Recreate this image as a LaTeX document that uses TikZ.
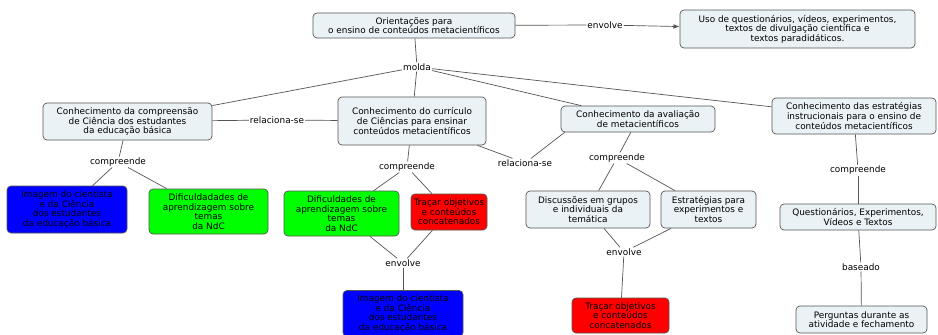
\documentclass[tikz,border=0pt]{standalone}
\usepackage{fontspec}
\setmainfont{DejaVu Sans}
\usetikzlibrary{arrows.meta}
\definecolor{boxfill}{RGB}{234,242,245}
\definecolor{edgegray}{RGB}{85,85,85}

\begin{document}
\begin{tikzpicture}[x=1pt,y=-1pt,>=Latex,
 box/.style={draw=edgegray,fill=boxfill,rounded corners=4pt,align=center,
 font=\fontsize{8.9}{9.6}\selectfont,inner sep=1pt,line width=0.7pt},
 bluebox/.style={box,fill=blue},
 greenbox/.style={box,fill=green},
 redbox/.style={box,fill=red},
 sz/.style 2 args={minimum width=#1pt,minimum height=#2pt},
 lbl/.style={font=\fontsize{8.9}{9.6}\selectfont,inner sep=1pt,fill=white},
 link/.style={draw=edgegray,line width=0.7pt}]
\useasboundingbox[fill=white] (0,0) rectangle (938,335);
% concepts
\node[box,sz={202}{25}] (orient) at (414,25.5) {Orientações para\\o ensino de conteúdos metacientíficos};
\node[box,sz={235}{38}] (uso) at (797.5,29) {Uso de questionários, vídeos, experimentos,\\textos de divulgação científica e\\textos paradidáticos.};
\node[box,sz={169}{37}] (compr) at (127.5,121.5) {Conhecimento da compreensão\\de Ciência dos estudantes\\da educação básica};
\node[box,sz={148}{48}] (curric) at (412,121) {Conhecimento do currículo\\de Ciências para ensinar\\conteúdos metacientíficos};
\node[box,sz={154}{26}] (aval) at (638,119) {Conhecimento da avaliação\\de metacientíficos};
\node[box,sz={164}{36}] (estrat) at (854,116) {Conhecimento das estratégias\\instrucionais para o ensino de\\conteúdos metacientíficos};
\node[bluebox,sz={120}{47}] (imgA) at (67,209.5) {Imagem do cientista\\e da Ciência\\dos estudantes\\da educação básica};
\node[greenbox,sz={119}{45}] (difA) at (208.5,211.5) {Dificuldadades de\\aprendizagem sobre\\temas\\da NdC};
\node[greenbox,sz={115}{45}] (difB) at (341.5,213.5) {Dificuldades de\\aprendizagem sobre\\temas\\da NdC};
\node[redbox,sz={76}{36}] (tracA) at (449,212) {Traçar objetivos\\e conteúdos\\concatenados};
\node[bluebox,sz={120}{46}] (imgB) at (403,313.5) {Imagem do cientista\\e da Ciência\\dos estudantes\\da educação básica};
\node[box,sz={124}{37}] (discus) at (588,209.5) {Discussões em grupos\\e individuais da\\temática};
\node[box,sz={95}{37}] (estexp) at (708.5,209.5) {Estratégias para\\experimentos e\\textos};
\node[redbox,sz={97}{35}] (tracB) at (620.5,315.5) {Traçar objetivos\\e conteúdos\\concatenados};
\node[box,sz={156}{26}] (quest) at (858,217) {Questionários, Experimentos,\\Vídeos e Textos};
\node[box,sz={131}{27}] (pergu) at (861.5,319.5) {Perguntas durante as\\atividade e fechamento};
% linking phrases
\node[lbl] (envA) at (605,25) {envolve};
\node[lbl] (molda) at (417,67) {molda};
\node[lbl] (relA) at (277,120) {relaciona-se};
\node[lbl] (relB) at (525,163) {relaciona-se};
\node[lbl] (compA) at (118,162) {compreende};
\node[lbl] (compB) at (407,167) {compreende};
\node[lbl] (envB) at (403,263) {envolve};
\node[lbl] (compC) at (617,158) {compreende};
\node[lbl] (envC) at (624,252) {envolve};
\node[lbl] (compD) at (858,170) {compreende};
\node[lbl] (basead) at (861,267) {baseado};
% links
\draw[link] (orient)--(envA);
\draw[link,->] (envA)--(uso);
\draw[link] (orient)--(molda);
\draw[link] (molda)--(compr);
\draw[link] (molda)--(curric);
\draw[link] (molda)--(aval);
\draw[link] (molda)--(estrat);
\draw[link] (compr)--(relA);
\draw[link] (relA)--(curric);
\draw[link] (curric)--(relB);
\draw[link] (relB)--([xshift=4pt]aval.south west);
\draw[link] (compr)--(compA);
\draw[link] (compA)--(imgA);
\draw[link] (compA)--(difA);
\draw[link] (curric)--(compB);
\draw[link] (compB)--(difB);
\draw[link] (compB)--(tracA);
\draw[link] (difB)--(envB);
\draw[link] (tracA)--(envB);
\draw[link] (envB)--(imgB);
\draw[link] (aval)--(compC);
\draw[link] (compC)--(discus);
\draw[link] (compC)--(estexp);
\draw[link] (discus)--(envC);
\draw[link] (estexp)--(envC);
\draw[link] (envC)--(tracB);
\draw[link] (estrat)--(compD);
\draw[link] (compD)--(quest);
\draw[link] (quest)--(basead);
\draw[link] (basead)--(pergu);
\end{tikzpicture}
\end{document}
